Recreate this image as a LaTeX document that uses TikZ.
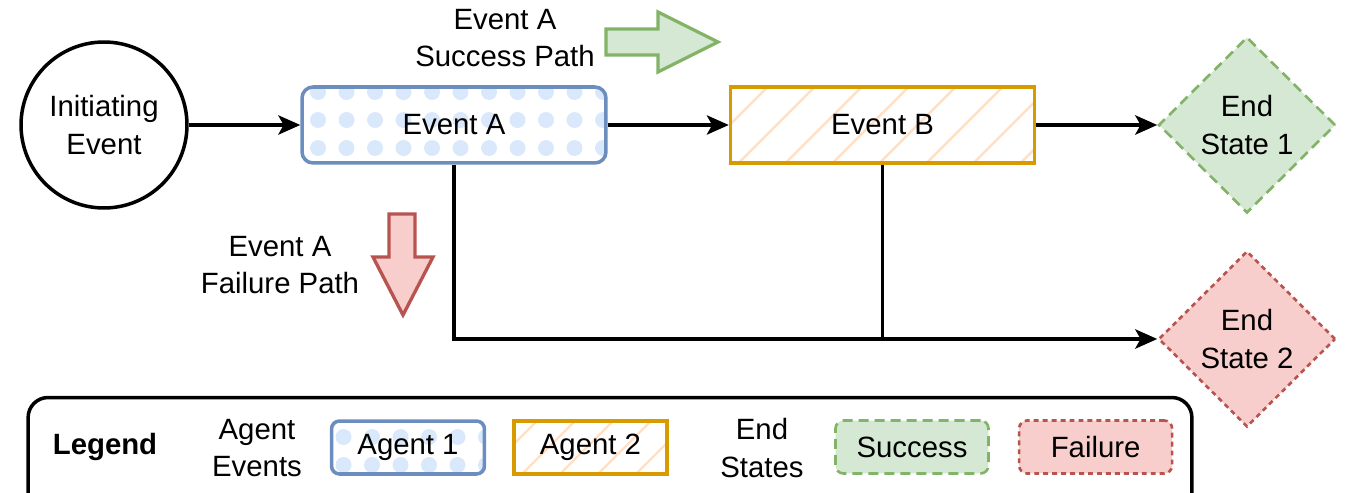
\documentclass[tikz,border=0pt]{standalone}
\usepackage{fontspec}
\setmainfont{Liberation Sans}
\usetikzlibrary{arrows.meta, positioning, shapes.geometric}

\definecolor{agentoneline}{HTML}{6C8EBF}
\definecolor{agentonedot}{HTML}{DAE8FC}
\definecolor{agenttwoline}{HTML}{D79B00}
\definecolor{agenttwohatch}{HTML}{FFE0C4}
\definecolor{successline}{HTML}{82B366}
\definecolor{successfill}{HTML}{D5E8D4}
\definecolor{failureline}{HTML}{B85450}
\definecolor{failurefill}{HTML}{F8CECC}

\tikzset{
    >={Stealth[length=12.5pt, width=11pt, inset=3pt]}, % filled arrow heads
    every node/.style={font=\fontsize{16.7pt}{21.5pt}\selectfont, align=center},
    plaintext/.style={inner sep=0pt},
    flow/.style={->, line width=1.8pt}, % connector with arrow head
    wire/.style={line width=1.8pt},     % connector without arrow head
    % light blue dots, #1/#2 = offset of the first dot from the top left corner
    dots/.style 2 args={path picture={
        \foreach \i in {0,...,11}
            \foreach \j in {0,...,3}
                \fill[agentonedot] ([shift={(#1+\i*28.5, #2+\j*28)}]path picture bounding box.north west) circle (0.16cm);
    }},
    % light orange diagonal hatching, #1 = spacing of the lines
    hatch/.style={path picture={
        \foreach \i in {-4,...,11}
            \draw[agenttwohatch, line width=1.4pt] ([shift={(8+\i*#1,0)}]path picture bounding box.south west) -- ++(120,-120);
    }},
    initev/.style={circle, draw, line width=2pt, minimum size=3.32cm, inner sep=0pt},
    event/.style={draw, line width=2pt, minimum width=6.08cm, minimum height=1.52cm, inner sep=0pt},
    keybox/.style={draw, line width=2pt, minimum width=3.06cm, minimum height=1.06cm, inner sep=0pt},
    agentone/.style={draw=agentoneline, rounded corners=0.22cm},
    agenttwo/.style={draw=agenttwoline},
    endstate/.style={diamond, line width=1.5pt, minimum width=3.54cm, minimum height=3.52cm, inner sep=0pt},
    success/.style={draw=successline, fill=successfill, dash pattern=on 5.7pt off 3.4pt},
    failure/.style={draw=failureline, fill=failurefill, dash pattern=on 2.8pt off 2.3pt},
    successarrow/.style={draw=successline, fill=successfill, line width=1.9pt},
    failurearrow/.style={draw=failureline, fill=failurefill, line width=1.9pt},
    legendbox/.style={draw, line width=2pt, rounded corners=0.4cm, minimum width=23.28cm, minimum height=2.3cm},
}

\begin{document}
\begin{tikzpicture}[x=0.02cm, y=-0.02cm]
    \useasboundingbox (0,0) rectangle (1345,493);

    % event sequence
    \node[initev] (init) at (104,125) {Initiating\\Event};
    \node[event, agentone, dots={16}{5}] (evA) at (454,125) {Event A};
    \node[event, agenttwo, hatch=47] (evB) at (882.5,125) {Event B};
    \node[endstate, success] (es1) at (1247,125) {End\\State 1};
    \node[endstate, failure] (es2) at (1247,339) {End\\State 2};
    \coordinate (merge) at (evB.south |- es2.west);

    \draw[flow] (init) -- (evA);
    \draw[flow] (evA) -- (evB);
    \draw[flow] (evB) -- (es1);
    \draw[flow] (evA.south) |- (es2.west);
    \draw[wire] (evB.south) -- (merge);

    % success / failure hints
    \draw[successarrow] (606,29) -- (658,29) -- (658,12) -- (718,42) -- (658,72) -- (658,55) -- (606,55) -- cycle;
    \node[plaintext] (succtext) at (505,38) {Event A\\Success Path};
    \draw[failurearrow] (389,214) -- (415,214) -- (415,257) -- (433,257) -- (403,315) -- (373,257) -- (389,257) -- cycle;
    \node[plaintext] (failtext) at (280,265) {Event A\\Failure Path};

    % legend
    \node[legendbox] (legend) at (610,455) {};
    \node[plaintext] (legendtitle) at (105,447) {\textbf{Legend}};
    \node[plaintext] (agenttitle) at (257,448) {Agent\\Events};
    \node[keybox, agentone, rounded corners=0.16cm, dots={12}{16}] (keyA) at (408,447.5) {Agent 1};
    \node[keybox, agenttwo, hatch=38, right=0.52cm of keyA] (keyB) {Agent 2};
    \node[plaintext] (endtitle) at (762,448) {End\\States};
    \node[keybox, success, line width=1.5pt, rounded corners=0.16cm] (keyS) at (912,447) {Success};
    \node[keybox, failure, line width=1.5pt, rounded corners=0.16cm, right=0.56cm of keyS] (keyF) {Failure};
\end{tikzpicture}
\end{document}
